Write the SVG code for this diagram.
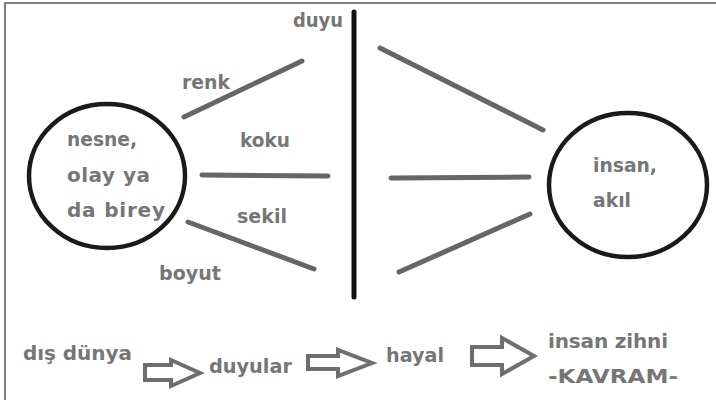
<svg xmlns="http://www.w3.org/2000/svg" width="716" height="400" viewBox="0 0 716 400">
<style>
.t{font-family:"DejaVu Sans","Liberation Sans",sans-serif;font-weight:bold;font-size:20px;fill:#767676}
.c{fill:none;stroke:#1a1a1a;stroke-width:4.5}
.l{stroke:#666;stroke-width:5;stroke-linecap:round;fill:none}
.a{fill:none;stroke:#6e6e6e;stroke-width:4;stroke-linejoin:miter}
</style>
<rect width="716" height="400" fill="#fff"/>
<path d="M5 402 V3 H720" fill="none" stroke="#555" stroke-width="1.5"/>
<g id="connectors">
<line class="l" x1="184" y1="117" x2="302" y2="61"/>
<line class="l" x1="202" y1="175" x2="328" y2="176"/>
<line class="l" x1="188" y1="222" x2="314" y2="269"/>
<line class="l" x1="380" y1="48" x2="543" y2="130"/>
<line class="l" x1="391" y1="178" x2="529" y2="177"/>
<line class="l" x1="399" y1="272" x2="530" y2="214"/>
</g>
<g id="duyu">
<line x1="354" y1="12" x2="354" y2="297" stroke="#111" stroke-width="5" stroke-linecap="round"/>
<text class="t" x="293" y="27" textLength="50" lengthAdjust="spacingAndGlyphs">duyu</text>
</g>
<g id="nesne">
<ellipse class="c" cx="107" cy="176" rx="78" ry="72"/>
<text class="t" x="67" y="146" textLength="70" lengthAdjust="spacingAndGlyphs">nesne,</text>
<text class="t" x="67" y="182" textLength="83">olay ya</text>
<text class="t" x="67" y="217" textLength="98">da birey</text>
</g>
<g id="insan">
<ellipse class="c" cx="628" cy="185" rx="79" ry="72"/>
<text class="t" x="593" y="172" textLength="64" lengthAdjust="spacingAndGlyphs">insan,</text>
<text class="t" x="593" y="207" textLength="38" lengthAdjust="spacingAndGlyphs">akıl</text>
</g>
<g id="labels">
<text class="t" x="182" y="89" textLength="48" lengthAdjust="spacingAndGlyphs">renk</text>
<text class="t" x="240" y="147" textLength="50" lengthAdjust="spacingAndGlyphs">koku</text>
<text class="t" x="237" y="223" textLength="50" lengthAdjust="spacingAndGlyphs">sekil</text>
<text class="t" x="159" y="280" textLength="62" lengthAdjust="spacingAndGlyphs">boyut</text>
</g>
<g id="flow">
<text class="t" x="23" y="360" textLength="109">dış dünya</text>
<path class="a" d="M145 365 H171 V360 L200 373 L171 386 V380 H145 Z"/>
<text class="t" x="209" y="373" textLength="83" lengthAdjust="spacingAndGlyphs">duyular</text>
<path class="a" d="M308 356 H338 V350 L372 363 L338 376 V369 H308 Z"/>
<text class="t" x="386" y="362" textLength="58" lengthAdjust="spacingAndGlyphs">hayal</text>
<path class="a" d="M472 347 H502 V338 L534 356 L502 374 V365 H472 Z"/>
<text class="t" x="548" y="348" textLength="120">insan zihni</text>
<text class="t" x="548" y="383" font-size="21" textLength="130" lengthAdjust="spacingAndGlyphs">-KAVRAM-</text>
</g>
</svg>
